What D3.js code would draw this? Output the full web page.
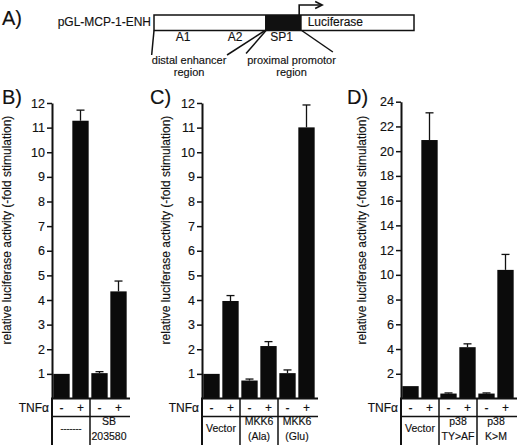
<!DOCTYPE html>
<html>
<head>
<meta charset="utf-8">
<script src="https://cdn.jsdelivr.net/npm/d3@7/dist/d3.min.js"></script>
<style>
  body { margin: 0; background: #fff; }
  svg text { font-family: "Liberation Sans", Arial, Helvetica, sans-serif; fill: #111; stroke: #111; stroke-width: 0.15px; }
</style>
</head>
<body>
<svg id="fig" width="520" height="447"></svg>
<script>
// ---- data ----
const tnfSigns = ["-", "+"];

const ticksBC = [1, 2, 3, 4, 5, 6, 7, 8, 9, 10, 11, 12];
const ticksD = [2, 4, 6, 8, 10, 12, 14, 16, 18, 20, 22, 24];

const groupsB = [["-------"], ["SB", "203580"]];
const valuesB = [1.0, 11.28, 1.03, 4.35];
const errTopB = [1.0, 11.71, 1.09, 4.77];

const groupsC = [["Vector"], ["MKK6", "(Ala)"], ["MKK6", "(Glu)"]];
const valuesC = [1.0, 3.96, 0.73, 2.13, 1.03, 11.01];
const errTopC = [1.0, 4.18, 0.79, 2.31, 1.16, 11.92];

const groupsD = [["Vector"], ["p38", "TY>AF"], ["p38", "K>M"]];
const valuesD = [1.0, 20.9, 0.4, 4.15, 0.4, 10.4];
const errTopD = [1.0, 23.1, 0.45, 4.42, 0.45, 11.65];

const yLabel = "relative luciferase activity (-fold stimulation)";

// panel A construct (positions in % of construct length)
const constructName = "pGL-MCP-1-ENH";
const sitesNames = ["A1", "A2", "SP1"];
const sitesPos = [11.2, 31.2, 49.1];
const sp1Block = [42.7, 56.8];
const regionNames = [["distal enhancer", "region"], ["proximal promotor", "region"]];

const svg = d3.select("#fig");
const font = '"Liberation Sans", Arial, Helvetica, sans-serif';

// ---- panel A ----
function drawConstruct() {
    const g = svg.append("g");
    const x = d3.scaleLinear().domain([0, 100]).range([154, 414]);
    const top = 15, bot = 30.5;

    g.append("text").attr("x", 2).attr("y", 25).style("font-size", "20px").text("A)");
    g.append("text").attr("x", x(0) - 3).attr("y", 26).attr("text-anchor", "end")
        .style("font-size", "12px").text(constructName);

    g.append("rect").attr("x", x(0)).attr("y", top)
        .attr("width", x(100) - x(0)).attr("height", bot - top)
        .attr("fill", "#fff").attr("stroke", "#111").attr("stroke-width", 1.5);
    g.append("rect").attr("x", x(sp1Block[0])).attr("y", top)
        .attr("width", x(sp1Block[1]) - x(sp1Block[0])).attr("height", bot - top)
        .attr("fill", "#111");
    g.append("text").attr("x", x(sp1Block[1]) + 6).attr("y", 26)
        .style("font-size", "12px").text("Luciferase");

    // transcription start arrow
    const ax = x(sp1Block[1]) - 2.5;
    g.append("path").attr("d", `M${ax},${top} V5 H${ax + 22}`)
        .attr("fill", "none").attr("stroke", "#111").attr("stroke-width", 1.6);
    g.append("path").attr("d", `M${ax + 16},1.5 L${ax + 23},5 L${ax + 16},8.5`)
        .attr("fill", "none").attr("stroke", "#111").attr("stroke-width", 1.6);

    sitesNames.forEach((s, i) => {
        g.append("text").attr("x", x(sitesPos[i])).attr("y", 41)
            .attr("text-anchor", "middle").style("font-size", "12px").text(s);
    });

    // leader lines
    const leaders = [
        [x(0), x(-0.9), 55],
        [x(sp1Block[0]), x(28.1), 55],
        [x(sp1Block[0]) + 1, x(35.4), 53.5],
        [x(sp1Block[1]), x(68.8), 52]
    ];
    leaders.forEach(l => {
        g.append("line").attr("x1", l[0]).attr("y1", bot).attr("x2", l[1]).attr("y2", l[2])
            .attr("stroke", "#111").attr("stroke-width", 1.5);
    });

    const regionX = [x(13.5), x(52.9)];
    regionNames.forEach((lines, i) => {
        lines.forEach((t, j) => {
            g.append("text").attr("x", regionX[i]).attr("y", 64 + j * 12)
                .attr("text-anchor", "middle").style("font-size", "11px").text(t);
        });
    });
}

// ---- bar panels ----
function drawPanel(cfg) {
    const g = svg.append("g");
    const n = cfg.values.length;
    const step = 19;
    const y0 = 398.5, tableBottom = 445;
    const endX = cfg.axisX + n * step + 2;

    const x = d3.scaleBand().domain(d3.range(n))
        .range([cfg.axisX, cfg.axisX + n * step])
        .paddingInner(0.14).paddingOuter(0.07);
    const y = d3.scaleLinear().domain([0, cfg.max]).range([y0, cfg.top]);

    g.append("text").attr("x", cfg.letterX).attr("y", 104)
        .style("font-size", "20px").text(cfg.letter);

    // y label
    g.append("text")
        .attr("transform", `translate(${cfg.labelX},230) rotate(-90)`)
        .attr("text-anchor", "middle").style("font-size", "12px").text(yLabel);

    // bars
    g.selectAll("rect.bar").data(cfg.values).enter().append("rect")
        .attr("class", "bar")
        .attr("x", (d, i) => x(i)).attr("width", x.bandwidth())
        .attr("y", d => y(d)).attr("height", d => y0 - y(d))
        .attr("fill", "#0b0b0b");

    // error bars (upper only)
    const errs = cfg.errTop.map((e, i) => ({ i, v: cfg.values[i], e }))
        .filter(d => d.e > d.v + 0.001);
    const eg = g.selectAll("g.err").data(errs).enter().append("g").attr("class", "err");
    eg.append("line")
        .attr("x1", d => x(d.i) + x.bandwidth() / 2).attr("x2", d => x(d.i) + x.bandwidth() / 2)
        .attr("y1", d => y(d.v)).attr("y2", d => y(d.e))
        .attr("stroke", "#111").attr("stroke-width", 1.3);
    eg.append("line")
        .attr("x1", d => x(d.i) + x.bandwidth() / 2 - 4).attr("x2", d => x(d.i) + x.bandwidth() / 2 + 4)
        .attr("y1", d => y(d.e)).attr("y2", d => y(d.e))
        .attr("stroke", "#111").attr("stroke-width", 1.3);

    // y axis
    const axis = g.append("g").attr("transform", `translate(${cfg.axisX},0)`)
        .call(d3.axisLeft(y).tickValues(cfg.ticks).tickSize(5).tickPadding(2).tickSizeOuter(0));
    axis.attr("font-family", font).attr("font-size", 12.5);
    axis.select(".domain").attr("stroke", "#111").attr("stroke-width", 2);
    axis.selectAll(".tick line").attr("stroke", "#111").attr("stroke-width", 1.5);
    axis.selectAll(".tick text").attr("fill", "#111");

    // table under the bars
    g.append("line").attr("x1", cfg.axisX - 1).attr("x2", endX).attr("y1", y0).attr("y2", y0)
        .attr("stroke", "#111").attr("stroke-width", 2);
    g.append("line").attr("x1", cfg.axisX).attr("x2", endX).attr("y1", 416.5).attr("y2", 416.5)
        .attr("stroke", "#111").attr("stroke-width", 1.5);
    g.append("line").attr("x1", cfg.axisX).attr("x2", cfg.axisX).attr("y1", y0).attr("y2", tableBottom)
        .attr("stroke", "#111").attr("stroke-width", 2);
    for (let k = 1; k < cfg.groups.length; k++) {
        const dx = cfg.axisX + k * 2 * step;
        g.append("line").attr("x1", dx).attr("x2", dx).attr("y1", y0).attr("y2", tableBottom)
            .attr("stroke", "#111").attr("stroke-width", 1.5);
    }

    g.append("text").attr("x", cfg.axisX - 3).attr("y", 412)
        .attr("text-anchor", "end").style("font-size", "12px").text("TNFα");
    cfg.values.forEach((v, i) => {
        g.append("text").attr("x", x(i) + x.bandwidth() / 2).attr("y", 412)
            .attr("text-anchor", "middle").style("font-size", "12px").text(tnfSigns[i % 2]);
    });

    cfg.groups.forEach((lines, k) => {
        const cx = cfg.axisX + (2 * k + 1) * step;
        lines.forEach((t, j) => {
            const base = lines.length === 1 ? 431.5 : 425.3 + j * 14.3;
            g.append("text").attr("x", cx).attr("y", base)
                .attr("text-anchor", "middle")
                .style("font-size", t.startsWith("---") ? "9px" : "10.5px").text(t);
        });
    });
}

drawConstruct();
drawPanel({ letter: "B)", letterX: 2, labelX: 11, axisX: 52, top: 103, max: 12,
    ticks: ticksBC, values: valuesB, errTop: errTopB, groups: groupsB });
drawPanel({ letter: "C)", letterX: 150, labelX: 170, axisX: 202, top: 103, max: 12,
    ticks: ticksBC, values: valuesC, errTop: errTopC, groups: groupsC });
drawPanel({ letter: "D)", letterX: 347, labelX: 366, axisX: 401, top: 101.7, max: 24,
    ticks: ticksD, values: valuesD, errTop: errTopD, groups: groupsD });
</script>
</body>
</html>
